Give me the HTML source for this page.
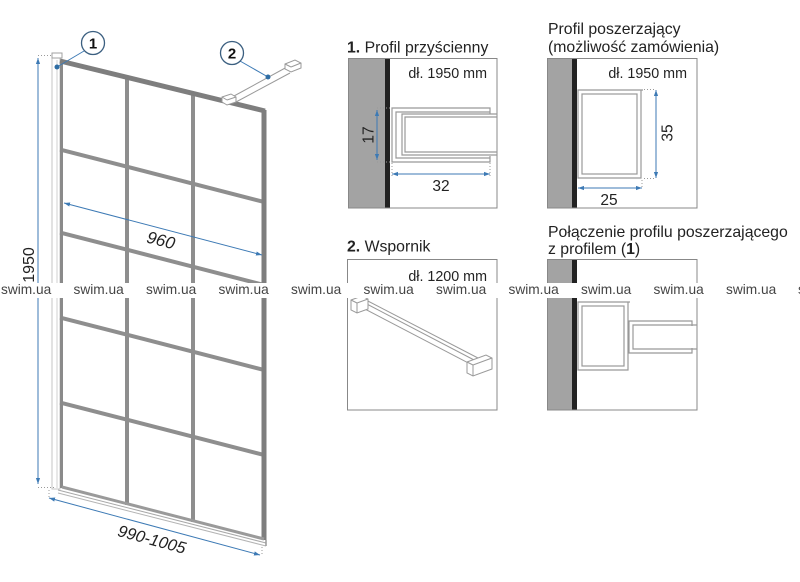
<!DOCTYPE html>
<html><head><meta charset="utf-8"><style>
html,body{margin:0;padding:0;background:#fff;}
svg{display:block;}
text{font-family:"Liberation Sans",Arial,sans-serif;}
</style></head><body>
<svg width="800" height="582" viewBox="0 0 800 582" xmlns="http://www.w3.org/2000/svg">
<defs>
<marker id="a" viewBox="0 0 10 10" refX="10" refY="5" markerWidth="6" markerHeight="6" orient="auto-start-reverse"><path d="M0,1.5 L10,5 L0,8.5z" fill="#3d7ab5"/></marker>
</defs>
<rect width="800" height="582" fill="#fff"/>

<!-- ===== LEFT PANEL ===== -->
<!-- wall profile strip -->
<rect x="52" y="57" width="8" height="432" fill="#fff" stroke="#c4c4c4" stroke-width="1"/>
<line x1="57" y1="60" x2="57" y2="488" stroke="#d0d0d0" stroke-width="1"/>
<rect x="52" y="53" width="10" height="5" fill="#fff" stroke="#a0a0a0" stroke-width="1"/>

<!-- grid bars -->
<g stroke="#8e8e8e" stroke-width="4" stroke-linecap="square">
<line x1="62" y1="150" x2="264" y2="202"/>
<line x1="62" y1="233" x2="264" y2="285"/>
<line x1="62" y1="318" x2="264" y2="370"/>
<line x1="62" y1="403" x2="264" y2="455"/>
<line x1="127" y1="78" x2="127" y2="503"/>
<line x1="193" y1="94" x2="193" y2="520"/>
</g>
<line x1="61.5" y1="62" x2="61.5" y2="488" stroke="#8a8a8a" stroke-width="3"/>
<line x1="60" y1="61" x2="265" y2="111" stroke="#7e7e7e" stroke-width="5"/>
<line x1="264" y1="110" x2="264" y2="540" stroke="#7e7e7e" stroke-width="5"/>
<!-- bottom profile -->
<line x1="62" y1="487" x2="264" y2="539" stroke="#9a9a9a" stroke-width="3"/>
<line x1="58" y1="490" x2="266" y2="543" stroke="#a8a8a8" stroke-width="1"/>
<line x1="58" y1="493" x2="266" y2="546" stroke="#b4b4b4" stroke-width="1"/>
<line x1="266" y1="540" x2="266" y2="546" stroke="#999" stroke-width="1.5"/>

<!-- bracket item 2 -->
<g fill="#fff" stroke="#9a9a9a" stroke-width="1">
<line x1="234" y1="96" x2="287" y2="67"/>
<line x1="236" y1="102" x2="290" y2="73"/>
<polygon points="222,97 231,94 236,97 236,102 227,105 222,102"/>
<line x1="222" y1="97" x2="227" y2="100"/><line x1="227" y1="100" x2="236" y2="97"/>
<polygon points="285,64 295,60 301,63 301,68 291,72 285,69"/>
<line x1="285" y1="64" x2="291" y2="67"/><line x1="291" y1="67" x2="301" y2="63"/>
</g>

<!-- dimension lines -->
<g stroke="#3d7ab5" stroke-width="1" fill="none">
<line x1="38" y1="58" x2="38" y2="484" marker-start="url(#a)" marker-end="url(#a)"/>
<line x1="64" y1="203" x2="262" y2="255" marker-start="url(#a)" marker-end="url(#a)"/>
<line x1="49" y1="498" x2="260" y2="555" marker-start="url(#a)" marker-end="url(#a)"/>
</g>
<g stroke="#9a9a9a" stroke-width="1" stroke-dasharray="1,2">
<line x1="38" y1="55.5" x2="52" y2="55.5"/>
<line x1="38" y1="487.5" x2="56" y2="487.5"/>
<line x1="49" y1="490" x2="49" y2="497"/>
<line x1="262" y1="547" x2="262" y2="556"/>
</g>
<text transform="translate(28,265) rotate(-90)" y="6" text-anchor="middle" font-size="16" fill="#222">1950</text>
<text transform="translate(161,240) rotate(14.5)" y="6" text-anchor="middle" font-size="17" font-style="italic" fill="#222">960</text>
<text transform="translate(152,539) rotate(15)" y="6" text-anchor="middle" font-size="16.5" font-style="italic" fill="#222">990-1005</text>

<!-- callouts -->
<line x1="84" y1="51" x2="57" y2="67" stroke="#3d7ab5" stroke-width="1"/>
<circle cx="57" cy="67" r="2.5" fill="#2e6da4"/>
<circle cx="93" cy="43" r="11.5" fill="#fff" stroke="#3b5f80" stroke-width="1.3"/>
<text x="93" y="48.5" text-anchor="middle" font-size="15" font-weight="bold" fill="#111">1</text>
<line x1="240" y1="61" x2="268" y2="77" stroke="#3d7ab5" stroke-width="1"/>
<circle cx="268" cy="77" r="2.5" fill="#2e6da4"/>
<circle cx="232" cy="53" r="11.5" fill="#fff" stroke="#3b5f80" stroke-width="1.3"/>
<text x="232" y="58.5" text-anchor="middle" font-size="15" font-weight="bold" fill="#111">2</text>

<!-- ===== BOX 1 ===== -->
<text x="347" y="52.5" font-size="15.8" fill="#222"><tspan font-weight="bold">1.</tspan> Profil przyścienny</text>
<rect x="348" y="58" width="37" height="150" fill="#a3a3a3"/>
<rect x="385" y="58" width="5" height="150" fill="#222"/>
<rect x="348.5" y="58.5" width="148.5" height="149.5" fill="none" stroke="#888" stroke-width="1"/>
<text x="487" y="78" text-anchor="end" font-size="14.3" fill="#222">dł. 1950 mm</text>
<g fill="none" stroke="#999" stroke-width="1.2">
<path d="M490,114 V108 H392 V162 H490 V156"/>
<path d="M490,112 H396 V158 H490"/>
<path d="M497,114 H402 V155 H497"/>
<path d="M497,117 H405 V152 H497"/>
</g>
<g stroke="#3d7ab5" stroke-width="1">
<line x1="377" y1="110" x2="377" y2="160" marker-start="url(#a)" marker-end="url(#a)"/>
<line x1="392" y1="174" x2="490" y2="174" marker-start="url(#a)" marker-end="url(#a)"/>
</g>
<g stroke="#9a9a9a" stroke-width="1" stroke-dasharray="1,2">
<line x1="377" y1="108" x2="391" y2="108"/>
<line x1="377" y1="162" x2="391" y2="162"/>
<line x1="392" y1="163" x2="392" y2="177"/>
<line x1="490" y1="163" x2="490" y2="177"/>
</g>
<text transform="translate(368,135) rotate(-90)" y="5.5" text-anchor="middle" font-size="15.5" fill="#222">17</text>
<text x="441" y="191" text-anchor="middle" font-size="15.5" fill="#222">32</text>

<!-- ===== BOX 2 ===== -->
<text x="548" y="34" font-size="15.8" fill="#222">Profil poszerzający</text>
<text x="548" y="52" font-size="15.8" fill="#222">(możliwość zamówienia)</text>
<rect x="547" y="58" width="25" height="150" fill="#a3a3a3"/>
<rect x="572" y="58" width="5" height="150" fill="#222"/>
<rect x="547.5" y="58.5" width="149.5" height="149.5" fill="none" stroke="#888" stroke-width="1"/>
<text x="687" y="78" text-anchor="end" font-size="14.3" fill="#222">dł. 1950 mm</text>
<g fill="none" stroke="#999" stroke-width="1.2">
<path d="M643,90 H578 V178 H641 V90"/>
<rect x="582" y="94" width="55" height="80"/>
</g>
<g stroke="#3d7ab5" stroke-width="1">
<line x1="656" y1="90" x2="656" y2="178" marker-start="url(#a)" marker-end="url(#a)"/>
<line x1="578" y1="188" x2="642" y2="188" marker-start="url(#a)" marker-end="url(#a)"/>
</g>
<g stroke="#9a9a9a" stroke-width="1" stroke-dasharray="1,2">
<line x1="644" y1="89.5" x2="656" y2="89.5"/>
<line x1="644" y1="178.5" x2="656" y2="178.5"/>
<line x1="642" y1="180" x2="642" y2="189"/>
</g>
<text transform="translate(667,133) rotate(-90)" y="5.5" text-anchor="middle" font-size="15.5" fill="#222">35</text>
<text x="609" y="205" text-anchor="middle" font-size="15.5" fill="#222">25</text>

<!-- ===== BOX 3 ===== -->
<text x="347" y="251.5" font-size="15.8" fill="#222"><tspan font-weight="bold">2.</tspan> Wspornik</text>
<rect x="347.5" y="259.5" width="149.5" height="150.5" fill="none" stroke="#888" stroke-width="1"/>
<text x="487" y="281" text-anchor="end" font-size="14.3" fill="#222">dł. 1200 mm</text>
<g fill="#fff" stroke="#9a9a9a" stroke-width="1">
<polygon points="364,299 478,358 474,366 361,307"/>
<line x1="363" y1="302" x2="476" y2="361"/>
<polygon points="351,300 362,296 368,299 368,309 357,313 351,310"/>
<line x1="351" y1="300" x2="357" y2="303"/><line x1="357" y1="303" x2="368" y2="299"/><line x1="357" y1="303" x2="357" y2="313"/>
<polygon points="467,362 486,355 492,358 492,369 473,376 467,373"/>
<line x1="467" y1="362" x2="473" y2="365"/><line x1="473" y1="365" x2="492" y2="358"/><line x1="473" y1="365" x2="473" y2="376"/>
</g>

<!-- ===== BOX 4 ===== -->
<text x="548" y="237" font-size="15.8" fill="#222">Połączenie profilu poszerzającego</text>
<text x="548" y="254" font-size="15.8" fill="#222">z profilem (<tspan font-weight="bold">1</tspan>)</text>
<rect x="547" y="259" width="25" height="151" fill="#a3a3a3"/>
<rect x="572" y="259" width="5" height="151" fill="#222"/>
<rect x="547.5" y="259.5" width="149.5" height="150.5" fill="none" stroke="#888" stroke-width="1"/>
<g fill="none" stroke="#999" stroke-width="1.2">
<path d="M630,302 H578 V370 H628 V302"/>
<rect x="582" y="306" width="42" height="60"/>
<path d="M692,326 V321 H629 V353 H692 V348"/>
<path d="M697,325 H633 V349 H697"/>
</g>

<!-- ===== WATERMARK BAND ===== -->
<rect x="0" y="283" width="800" height="15" fill="#fff"/>
<g font-size="13.7" fill="#444">
<text x="1" y="294">swim.ua</text>
<text x="73.5" y="294">swim.ua</text>
<text x="146" y="294">swim.ua</text>
<text x="218.5" y="294">swim.ua</text>
<text x="291" y="294">swim.ua</text>
<text x="363.5" y="294">swim.ua</text>
<text x="436" y="294">swim.ua</text>
<text x="508.5" y="294">swim.ua</text>
<text x="581" y="294">swim.ua</text>
<text x="653.5" y="294">swim.ua</text>
<text x="726" y="294">swim.ua</text>
<text x="798" y="294">swim.ua</text>
</g>
</svg>
</body></html>
